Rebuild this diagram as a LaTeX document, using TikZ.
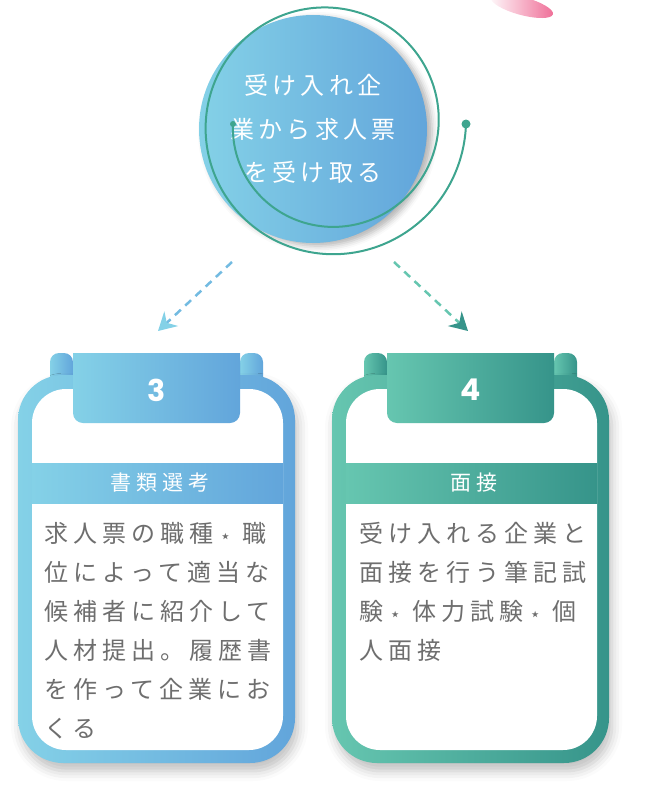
\documentclass[tikz,border=0pt]{standalone}
\usepackage{fontspec}
\usetikzlibrary{arrows.meta,shadows.blur}
\newfontfamily\jphub[LetterSpace=17]{Noto Sans CJK JP}
\newfontfamily\jpband[LetterSpace=24]{Noto Sans CJK JP}
\newfontfamily\jpbody[LetterSpace=21]{Noto Sans CJK JP}
\newfontfamily\numfont{Poppins}
\newfontfamily\starfont{DejaVu Sans}
\newcommand\dotstar{\makebox[24pt]{\starfont\fontsize{18}{18}\selectfont ⋆}\hspace{5pt}}
\definecolor{blueL}{HTML}{84D1E7}
\definecolor{blueR}{HTML}{62A5DB}
\definecolor{tealL}{HTML}{66C6B0}
\definecolor{tealR}{HTML}{36948A}
\definecolor{ring}{HTML}{3EA58F}
\definecolor{bodygray}{HTML}{6E6E6E}
\definecolor{petal}{HTML}{E8306B}
\tikzset{
  hub/.style={circle, minimum size=228pt, inner sep=0pt, left color=blueL, right color=blueR,
    blur shadow={shadow xshift=5pt, shadow yshift=-3pt, shadow blur radius=6pt, shadow opacity=30},
    text=white, align=center, font=\jphub\fontsize{24}{43.5}\selectfont},
  flow/.style={dash pattern=on 8pt off 6pt, line width=2.5pt},
  numtxt/.style={text=white, inner sep=0pt, font=\numfont\bfseries\fontsize{30}{30}\selectfont},
  bandtxt/.style={text=white, inner sep=0pt, font=\jpband\fontsize{21}{21}\selectfont},
  body/.style={anchor=west, inner sep=0pt, text=bodygray, font=\jpbody\fontsize{24}{24}\selectfont},
  cardshadow/.style={blur shadow={shadow xshift=3pt, shadow yshift=-8pt, shadow blur radius=10pt, shadow opacity=25}}
}
\begin{document}
\begin{tikzpicture}[x=1pt,y=-1pt]
	\useasboundingbox (0,0) rectangle (648,800);
	% petal
	\shade[left color=petal!5, right color=petal, opacity=.7, rotate around={-15:(522,6)}] (522,6) ellipse[x radius=32, y radius=9];

	% top circle
	\node[hub] (recv) at (313,129) {受け入れ企\\業から求人票\\を受け取る};
	\draw[ring, line width=2pt] plot[domain=180:-360, samples=180, smooth]
		({329+(96+(180-\x)*0.0759)*cos(\x)}, {124+(96+(180-\x)*0.0759)*sin(\x)});
	\fill[ring] (233,124) circle (3);
	\fill[ring] (466,124) circle (4.5);

	% arrows
	\coordinate (s3) at (232,262);
	\coordinate (e3) at (158,331);
	\coordinate (s4) at (394,262);
	\coordinate (e4) at (468,331);
	\draw[flow, draw=blueL!50!blueR, -{Stealth[length=18pt, width=20pt, inset=6pt, color=blueL]}] (s3) -- (e3);
	\draw[flow, draw=tealL, -{Stealth[length=18pt, width=20pt, inset=6pt, color=tealR]}] (s4) -- (e4);

	% cards
	\foreach \ox/\cl/\cr/\num/\ttl/\nm in {0/blueL/blueR/3/書類選考/three, 314/tealL/tealR/4/面接/four}{
		\shade[left color=\cl, right color=\cr, rounded corners=9] (50+\ox,353) rectangle (73+\ox,392);
		\shade[left color=\cl, right color=\cr, rounded corners=9] (240+\ox,353) rectangle (263+\ox,392);
		\shade[left color=\cl, right color=\cr, rounded corners=45, cardshadow] (18+\ox,375) rectangle (295+\ox,763);
		\fill[white, rounded corners=34] (32+\ox,389) rectangle (283+\ox,750);
		\shade[left color=\cl, right color=\cr, rounded corners=10] (73+\ox,353) rectangle (240+\ox,423);
		\shade[left color=\cl, right color=\cr] (73+\ox,353) rectangle (240+\ox,375);
		\node[numtxt] (n\nm) at (156.5+\ox,390) {\num};
		\shade[left color=\cl, right color=\cr] (32+\ox,463) rectangle (283+\ox,503);
		\node[bandtxt] (t\nm) at (160+\ox,483) {\ttl};
	}

	% card texts
	\foreach \t [count=\i] in {求人票の職種\dotstar 職, 位によって適当な, 候補者に紹介して, 人材提出。履歴書, を作って企業にお, くる}
		\node[body] (a\i) at (44,{533+39.2*(\i-1)}) {\t};
	\foreach \t [count=\i] in {受け入れる企業と, 面接を行う筆記試, 験\dotstar 体力試験\dotstar 個, 人面接}
		\node[body] (b\i) at (359,{533+39.2*(\i-1)}) {\t};
\end{tikzpicture}
\end{document}
